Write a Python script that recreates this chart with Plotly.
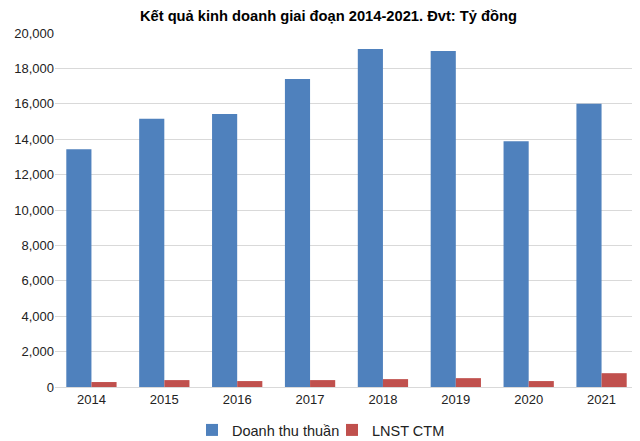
import plotly.graph_objects as go

years = ["2014", "2015", "2016", "2017", "2018", "2019", "2020", "2021"]
doanh_thu = [13430, 15150, 15430, 17400, 19100, 18990, 13890, 16000]
lnst = [280, 390, 335, 390, 445, 500, 335, 780]
y_ticks = [0, 2000, 4000, 6000, 8000, 10000, 12000, 14000, 16000, 18000, 20000]

fig = go.Figure()
fig.add_trace(go.Bar(x=years, y=doanh_thu, name="Doanh thu thuần",
                     marker=dict(color="#4F81BD", line=dict(width=0))))
fig.add_trace(go.Bar(x=years, y=lnst, name="LNST CTM",
                     marker=dict(color="#C0504D", line=dict(width=0))))

# The page body adds an 8px margin, so the figure is sized to fit the 640x441 window
fig.update_layout(
    width=632, height=433,
    margin=dict(l=47, r=2, t=25, b=54, autoexpand=False),
    paper_bgcolor="white", plot_bgcolor="white",
    font=dict(family="Liberation Sans, Arial, sans-serif", size=13, color="#333333"),
    title=dict(text="<b>Kết quả kinh doanh giai đoạn 2014-2021. Đvt: Tỷ đồng</b>",
               x=0.507, xanchor="center", y=0.9815, yanchor="middle",
               font=dict(size=14.7, color="#000000")),
    barmode="group", bargap=0.31, bargroupgap=0,
    showlegend=True,
    legend=dict(orientation="h", xref="container", x=0.2911, xanchor="left",
                yref="container", y=0.0254, yanchor="middle",
                font=dict(size=14.5, color="#222222"), itemwidth=30,
                entrywidth=95, tracegroupgap=0),
    xaxis=dict(showgrid=False, showline=True, linecolor="#D9D9D9", linewidth=1,
               ticks="", tickfont=dict(size=13, color="#222222")),
    yaxis=dict(range=[0, 20000], tickvals=y_ticks, tickformat=",d",
               showgrid=True, gridcolor="#D9D9D9", gridwidth=1,
               zeroline=False, showline=False, ticks="",
               tickfont=dict(size=13, color="#222222")),
)

fig.write_html("out.html")
